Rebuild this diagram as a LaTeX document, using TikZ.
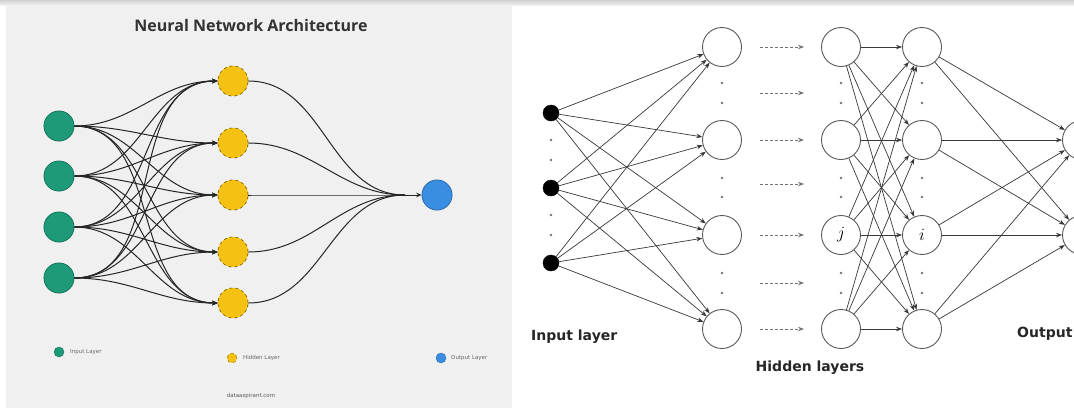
\documentclass[tikz,border=0pt]{standalone}
\usepackage{fontspec}
\setmainfont{DejaVu Sans}
\newfontfamily\titlefont{Open Sans}
\usetikzlibrary{arrows.meta}

\definecolor{panelbg}{HTML}{F0F0F0}
\definecolor{nngreen}{HTML}{1E9A78}
\definecolor{nnyellow}{HTML}{F5C214}
\definecolor{nnblue}{HTML}{3A8EE2}
\definecolor{wire}{HTML}{262626}
\definecolor{rwire}{HTML}{383838}

\tikzset{
  grnnode/.style={circle, fill=nngreen, draw=nngreen!75!black, line width=0.6pt,
    minimum size=30pt, inner sep=0pt},
  ylwnode/.style={circle, fill=nnyellow, draw=nnyellow!55!black, dashed, line width=0.6pt,
    minimum size=30pt, inner sep=0pt},
  blunode/.style={circle, fill=nnblue, draw=nnblue!75!black, line width=0.6pt,
    minimum size=30pt, inner sep=0pt},
  lgdot/.style={circle, inner sep=0pt, minimum size=10pt, line width=0.4pt},
  lgtext/.style={anchor=west, inner sep=0pt, text=black!60, font=\fontsize{5.5}{6}\selectfont},
  curvewire/.style={draw=wire, line width=1pt, -{Stealth[length=5.5pt,width=4.5pt]}},
  plainwire/.style={draw=wire, line width=1pt},
  blacknode/.style={circle, fill=black, draw=black, minimum size=16pt, inner sep=0pt},
  hollow/.style={circle, fill=white, draw=black!65, line width=0.9pt, minimum size=39pt, inner sep=0pt},
  rarr/.style={draw=rwire, line width=0.7pt, -{Stealth[length=6pt,width=4.5pt]}},
  dotarr/.style={draw=black!55, line width=0.8pt, densely dashed, -{Stealth[length=6pt,width=4.5pt]}},
  vdot/.style={circle, fill=black!55, inner sep=0pt, minimum size=2.8pt},
  lbl/.style={inner sep=0pt, text=black!85, font=\bfseries\fontsize{14}{16}\selectfont},
}

\begin{document}
\begin{tikzpicture}[x=1pt, y=-1pt]
\useasboundingbox (0,0) rectangle (1074,408);
\clip (0,0) rectangle (1074,408);
\fill[white] (0,0) rectangle (1074,408);
\fill[top color=black!18, bottom color=black!6] (0,0) rectangle (1074,5);
\fill[panelbg] (6,5) rectangle (512,408);

% ---------- left panel: coloured network ----------
\node[text=black!80, font=\titlefont\bfseries\fontsize{16}{18}\selectfont] (title) at (251,25) {Neural Network Architecture};

\foreach \k/\yy in {1/126, 2/176, 3/227, 4/278}
  \node[grnnode] (in\k) at (59,\yy) {};
\foreach \k/\yy in {1/81, 2/143, 3/195, 4/252, 5/303}
  \node[ylwnode] (hid\k) at (233,\yy) {};
\node[blunode] (outn) at (437,195) {};
\coordinate (merge) at (405,195);

\foreach \a in {1,...,4}
  \foreach \b in {1,...,5}
    \draw[curvewire] (in\a) to[out=0, in=180] (hid\b);
\foreach \b in {1,...,5}
  \draw[plainwire] (hid\b) to[out=0, in=180] (merge);
\draw[curvewire] (merge) -- (outn);

% redraw nodes above the wires
\foreach \k/\yy in {1/126, 2/176, 3/227, 4/278}
  \node[grnnode] at (59,\yy) {};
\foreach \k/\yy in {1/81, 2/143, 3/195, 4/252, 5/303}
  \node[ylwnode] at (233,\yy) {};
\node[blunode] at (437,195) {};

% legend
\node[lgdot, fill=nngreen, draw=nngreen!75!black] (lg1) at (59,352) {};
\node[lgtext] (lt1) at (70,352) {Input Layer};
\node[lgdot, fill=nnyellow, draw=nnyellow!55!black, dashed] (lg2) at (232,358) {};
\node[lgtext] (lt2) at (243,358) {Hidden Layer};
\node[lgdot, fill=nnblue, draw=nnblue!75!black] (lg3) at (441,358) {};
\node[lgtext] (lt3) at (451,358) {Output Layer};
\node[inner sep=0pt, text=black!65, font=\fontsize{5.5}{6}\selectfont] (site) at (251,396) {dataaspirant.com};

% ---------- right panel: layered network ----------
\foreach \k/\yy in {1/113, 2/188, 3/263}
  \node[blacknode] (ri\k) at (551,\yy) {};
\foreach \k/\yy in {1/47, 2/140, 3/235, 4/329} {
  \node[hollow] (ha\k) at (722,\yy) {};
  \node[hollow] (hb\k) at (841,\yy) {};
  \node[hollow] (hc\k) at (922,\yy) {};
}
\node[hollow] (ro1) at (1082,140) {};
\node[hollow] (ro2) at (1082,235) {};

\node[font=\fontsize{17}{18}\selectfont] (jl) at (hb3) {$j$};
\node[font=\fontsize{17}{18}\selectfont] (il) at (hc3) {$i$};

\foreach \a in {1,2,3}
  \foreach \b in {1,...,4}
    \draw[rarr] (ri\a) -- (ha\b);
\foreach \a in {1,...,4}
  \foreach \b in {1,...,4}
    \draw[rarr] (hb\a) -- (hc\b);
\foreach \a in {1,...,4}
  \foreach \b in {1,2}
    \draw[rarr] (hc\a) -- (ro\b);

% dashed arrows standing for the skipped layers
\foreach \k/\yy in {1/47, 2/93, 3/140, 4/184, 5/235, 6/283, 7/329} {
  \coordinate (ds\k) at (760,\yy);
  \coordinate (de\k) at (804,\yy);
  \draw[dotarr] (ds\k) -- (de\k);
}

% ellipsis dots
\foreach \yy in {140, 160, 215, 235}
  \node[vdot] at (551,\yy) {};
\foreach \xx in {722, 841, 922}
  \foreach \yy in {83, 103, 178, 197, 273, 293}
    \node[vdot] at (\xx,\yy) {};

\node[lbl, anchor=west] (inlab) at (531,337) {Input layer};
\node[lbl] (hidlab) at (810,368) {Hidden layers};
\node[lbl, anchor=west] (outlab) at (1017,334) {Output};
\end{tikzpicture}
\end{document}
